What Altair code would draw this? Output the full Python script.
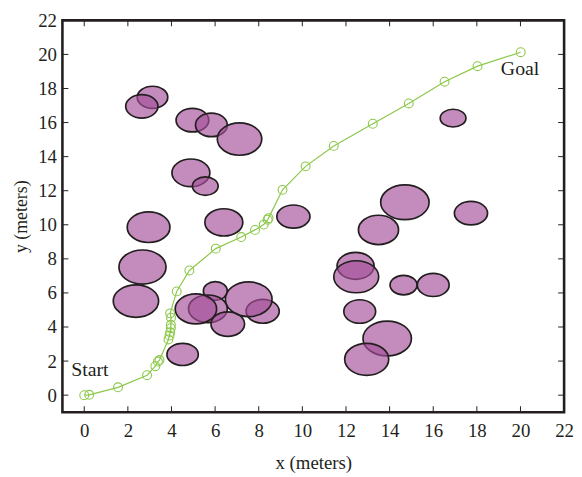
import altair as alt
import pandas as pd

# Obstacles (ellipses): centre x, centre y, half-width, half-height (meters); drawing order matters
ell_cx = [3.13, 2.64, 4.96, 5.83, 7.12, 4.89, 5.55, 2.95, 6.40, 9.59, 2.67, 2.37,
          6.01, 8.18, 7.54, 5.67, 5.12, 6.58, 4.51, 14.70, 17.73, 13.49, 12.44, 12.47,
          14.64, 16.00, 12.63, 13.89, 12.95, 16.91]
ell_cy = [17.48, 16.95, 16.14, 15.86, 15.03, 13.05, 12.27, 9.86, 10.14, 10.48, 7.52, 5.52,
          6.11, 4.92, 5.63, 5.07, 5.06, 4.17, 2.39, 11.32, 10.68, 9.70, 7.59, 6.95,
          6.46, 6.47, 4.91, 3.33, 2.10, 16.26]
ell_rx = [0.70, 0.74, 0.75, 0.73, 1.02, 0.87, 0.59, 0.98, 0.87, 0.76, 1.08, 1.04,
          0.55, 0.76, 1.07, 0.89, 0.95, 0.77, 0.72, 1.11, 0.76, 0.92, 0.85, 1.03,
          0.62, 0.73, 0.73, 1.11, 1.01, 0.59]
ell_ry = [0.65, 0.69, 0.69, 0.69, 0.95, 0.81, 0.54, 0.90, 0.80, 0.68, 1.00, 0.95,
          0.55, 0.70, 1.02, 0.81, 0.88, 0.72, 0.65, 1.02, 0.69, 0.86, 0.79, 0.94,
          0.57, 0.68, 0.69, 1.02, 0.94, 0.52]

# Planned path
path_x = [0.0, 0.23, 1.55, 2.88, 3.26, 3.38, 3.45, 3.86, 3.91, 3.94, 3.97, 3.97, 3.98, 3.94,
          4.24, 4.82, 6.03, 7.20, 7.83, 8.23, 8.41, 8.45, 9.09, 10.15, 11.44, 13.23, 14.88,
          16.52, 18.03, 20.01]
path_y = [0.0, 0.02, 0.46, 1.17, 1.70, 1.97, 2.06, 3.27, 3.50, 3.69, 3.93, 4.13, 4.55, 4.80,
          6.09, 7.32, 8.60, 9.28, 9.70, 10.01, 10.30, 10.39, 12.05, 13.43, 14.63, 15.93, 17.12,
          18.40, 19.31, 20.13]

labels_text = ["Start", "Goal"]
labels_x = [-0.6, 19.1]
labels_y = [1.15, 18.8]

ticks = [0, 2, 4, 6, 8, 10, 12, 14, 16, 18, 20, 22]

W, H = 507, 396
DOM = [-1, 22]
pxx = W / (DOM[1] - DOM[0])
pxy = H / (DOM[1] - DOM[0])

INK = "#231f20"
GREEN = "#8cc84a"
FONT = "Liberation Serif"


def ellipse_path(rx, ry):
    a = rx * pxx
    b = ry * pxy
    return f"M{-a:.2f},0A{a:.2f},{b:.2f},0,1,0,{a:.2f},0A{a:.2f},{b:.2f},0,1,0,{-a:.2f},0Z"


ell = pd.DataFrame({
    "x": ell_cx, "y": ell_cy,
    "shape": [ellipse_path(a, b) for a, b in zip(ell_rx, ell_ry)],
    "i": list(range(len(ell_cx))),
})
path = pd.DataFrame({"x": path_x, "y": path_y, "i": list(range(len(path_x)))})
labels = pd.DataFrame({"t": labels_text, "x": labels_x, "y": labels_y})
tk = pd.DataFrame({"x": ticks, "y": ticks})

xs = alt.Scale(domain=DOM, nice=False, zero=False)
ys = alt.Scale(domain=DOM, nice=False, zero=False)

xaxis = alt.Axis(values=ticks, ticks=False, tickSize=0, domain=False, grid=False,
                 labelFont=FONT, labelFontSize=19, labelColor=INK, labelPadding=10,
                 title="x (meters)", titleFont=FONT, titleFontSize=19, titleFontWeight="normal",
                 titleColor=INK, titlePadding=13, labelFlush=False)
yaxis = alt.Axis(values=ticks, ticks=False, tickSize=0, domain=False, grid=False,
                 labelFont=FONT, labelFontSize=19, labelColor=INK, labelPadding=6,
                 title="y (meters)", titleFont=FONT, titleFontSize=18, titleFontWeight="normal",
                 titleColor=INK, titlePadding=7, labelFlush=False)

X = alt.X("x:Q", scale=xs, axis=xaxis, title="x (meters)")
Y = alt.Y("y:Q", scale=ys, axis=yaxis, title="y (meters)")

ellipses = alt.Chart(ell).mark_point(
    filled=True, fill="#a44f9a", fillOpacity=0.65, stroke=INK, strokeWidth=1.7, strokeOpacity=1
).encode(
    x=X, y=Y,
    shape=alt.Shape("shape:N", scale=None, legend=None),
    size=alt.value(4),
    order=alt.Order("i:Q"),
)

line = alt.Chart(path).mark_line(color=GREEN, strokeWidth=1.2).encode(
    x=X, y=Y, order=alt.Order("i:Q"),
)
markers = alt.Chart(path).mark_point(
    shape="circle", size=80, filled=False, stroke=GREEN, strokeWidth=1.1, opacity=1
).encode(x=X, y=Y)

TL = 6
tick_bottom = alt.Chart(tk).mark_rule(color=INK, strokeWidth=1).encode(
    x=X, y=alt.value(H), y2=alt.value(H - TL))
tick_top = alt.Chart(tk).mark_rule(color=INK, strokeWidth=1).encode(
    x=X, y=alt.value(0), y2=alt.value(TL))
tick_left = alt.Chart(tk).mark_rule(color=INK, strokeWidth=1).encode(
    y=Y, x=alt.value(0), x2=alt.value(TL))
tick_right = alt.Chart(tk).mark_rule(color=INK, strokeWidth=1).encode(
    y=Y, x=alt.value(W), x2=alt.value(W - TL))

text = alt.Chart(labels).mark_text(
    align="left", baseline="alphabetic", font=FONT, fontSize=20, color=INK
).encode(x=X, y=Y, text="t:N")

chart = alt.layer(
    ellipses, line, markers, tick_bottom, tick_top, tick_left, tick_right, text
).properties(
    width=W, height=H,
    autosize=alt.AutoSizeParams(type="none"),
    padding={"left": 55, "top": 10, "right": 10, "bottom": 60},
    background="white",
).configure_view(
    stroke=INK, strokeWidth=2.6
)

chart.save("out.html", embed_options={"renderer": "svg", "actions": False})
